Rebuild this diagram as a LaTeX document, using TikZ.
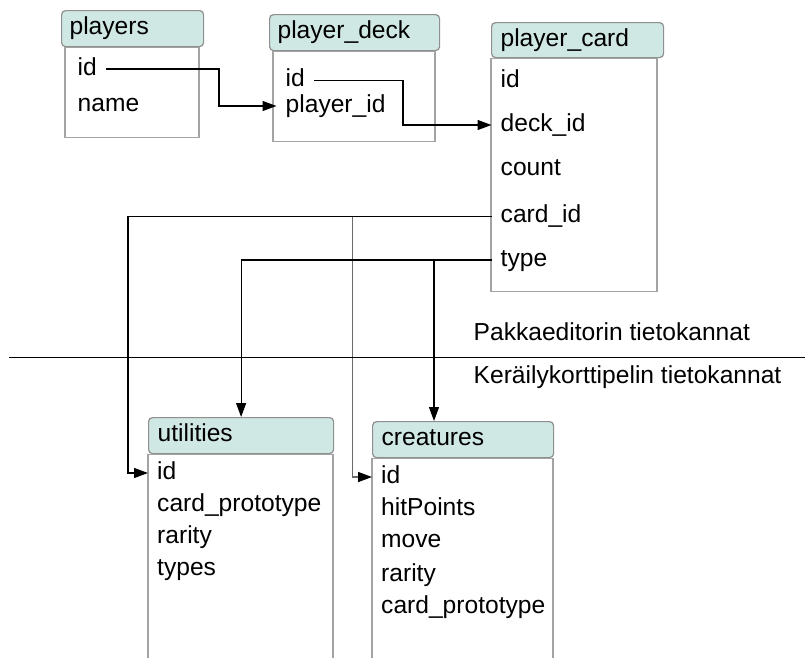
\documentclass[tikz,border=0pt]{standalone}
\usepackage{fontspec}
\setmainfont{Liberation Sans}
\usetikzlibrary{arrows.meta}

\definecolor{headfill}{HTML}{D0E8E4}
\definecolor{headline}{HTML}{8F8F8F}
\definecolor{boxline}{HTML}{A3A3A3}
\definecolor{linkgray}{HTML}{6A6A6A}

\begin{document}
\begin{tikzpicture}[x=1pt,y=-1pt,
	font=\fontsize{24.6}{29}\selectfont,
	head/.style={draw=headline,fill=headfill,rounded corners=4pt,line width=1.2pt,anchor=north west,
		inner xsep=8pt,inner ysep=0pt,text height=18pt,text depth=5.5pt,align=left},
	body/.style={draw=boxline,line width=1.4pt},
	field/.style={anchor=west,inner xsep=9pt,inner ysep=0pt,text height=18pt,text depth=5.5pt},
	fk/.style={line width=1.2pt,-{Triangle[length=14pt,width=10pt,color=black]}},
	graylink/.style={fk,draw=linkgray,line width=1.6pt}]
	\useasboundingbox (0,0) rectangle (805,657);
	\clip (0,0) rectangle (805,657);

	\node[head,text width=126pt,minimum height=36pt] (players) at (61,10) {players};
	\draw[body] ([xshift=4pt]players.south west) rectangle ++(134,90);
	\node[field] (pl-id) at (68.5,69) {id};
	\node[field] (pl-name) at (68.5,105) {name};

	\node[head,text width=154pt,minimum height=36pt] (deck) at (269,14) {player\_deck};
	\draw[body] ([xshift=4pt]deck.south west) rectangle ++(162,90);
	\node[field] (pd-id) at (276.5,80.5) {id};
	\node[field] (pd-pid) at (276.5,106) {player\_id};

	\node[head,text width=154pt,minimum height=35pt,inner xsep=9pt] (card) at (491,22) {player\_card};
	\draw[body] (card.south west) rectangle ++(166,233);
	\node[field] (pc-id) at (491.5,81) {id};
	\node[field] (pc-deckid) at (491.5,125) {deck\_id};
	\node[field] (pc-count) at (491.5,169.5) {count};
	\node[field] (pc-cardid) at (491.5,216.5) {card\_id};
	\node[field] (pc-type) at (491.5,260) {type};

	\node[head,text width=167pt,minimum height=36pt,inner xsep=9pt] (utilities) at (148,417) {utilities};
	\draw[body] (utilities.south west) rectangle ++(185,250);
	\node[field] (ut-id) at (148,473) {id};
	\node[field] (ut-proto) at (148,505) {card\_prototype};
	\node[field] (ut-rarity) at (148,537) {rarity};
	\node[field] (ut-types) at (148,569) {types};

	\node[head,text width=163pt,minimum height=36pt,inner xsep=9pt] (creatures) at (372,421) {creatures};
	\draw[body] (creatures.south west) rectangle ++(181,250);
	\node[field] (cr-id) at (372,477) {id};
	\node[field] (cr-hp) at (372,509.5) {hitPoints};
	\node[field] (cr-move) at (372,541.5) {move};
	\node[field] (cr-rarity) at (372,575) {rarity};
	\node[field] (cr-proto) at (372,607) {card\_prototype};

	\draw[fk] (pl-id.east) -- ++(113,0) |- (pd-pid.west);
	\draw[fk] (pd-id.east) -- ++(89,0) |- (pc-deckid.west);
	\coordinate (split1) at ([xshift=-139.2pt]pc-cardid.west);
	\coordinate (split2) at ([xshift=-57.5pt]pc-type.west);
	\draw[graylink] (split1) |- (cr-id.west);
	\draw[fk] (pc-cardid.west) -- ++(-363.5,0) |- (ut-id.west);
	\draw[fk] (pc-type.west) -| (utilities.north);
	\draw[fk] (split2) -- (split2 |- creatures.north);

	\draw[line width=1.2pt] (9,357.3) -- (805,357.3);
	\node[anchor=base west,inner sep=0pt] (upper) at (473.5,340) {Pakkaeditorin tietokannat};
	\node[anchor=base west,inner sep=0pt] (lower) at (473.5,383) {Keräilykorttipelin tietokannat};
\end{tikzpicture}
\end{document}
